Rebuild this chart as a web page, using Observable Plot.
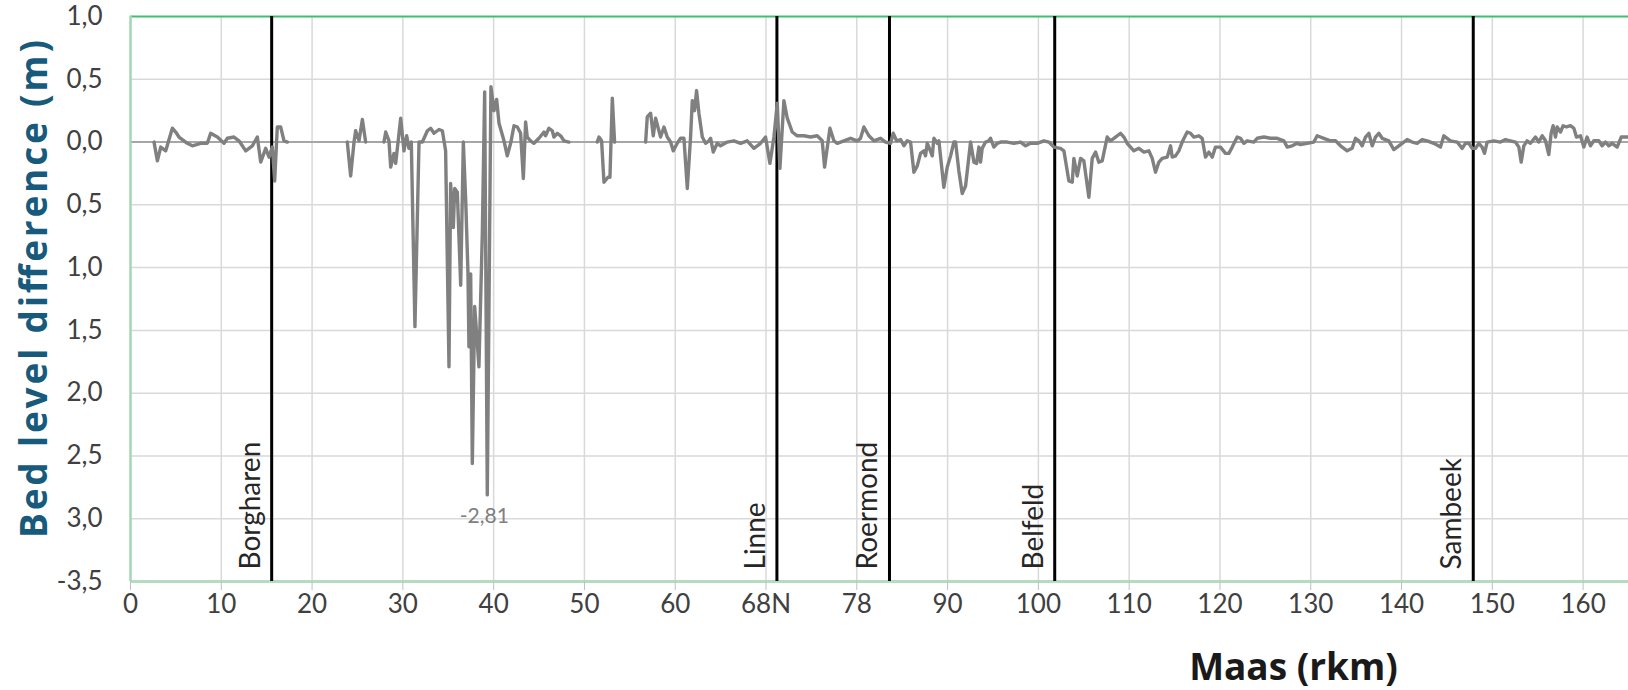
<!DOCTYPE html>
<html>
<head>
<meta charset="utf-8">
<script src="https://cdn.jsdelivr.net/npm/d3@7"></script>
<script src="https://cdn.jsdelivr.net/npm/@observablehq/plot@0.6"></script>
<style>
  html, body { margin: 0; padding: 0; background: #ffffff; }
  #chart { width: 1628px; height: 690px; overflow: hidden; }
</style>
</head>
<body>
<div id="chart"></div>
<script>
// ---- data ----
const rkm = [
  2.59,2.96,3.33,3.88,4.61,4.98,5.34,6.26,6.81,7.73,8.46,8.83,9.57,10.30,10.67,11.40,11.95,12.69,13.42,13.97,14.34,14.89,15.26,15.62,15.88,16.17,16.54,16.91,17.28,
  20,
  23.88,24.25,24.62,24.80,25.17,25.54,25.90,
  27,
  27.92,28.11,28.47,28.66,29.02,29.21,29.76,30.12,30.42,30.67,30.93,31.33,31.78,32.15,32.70,33.06,33.43,33.98,34.35,34.71,
  35.08,35.26,35.56,35.71,36.00,36.37,36.66,36.92,37.17,37.28,37.47,37.65,37.91,38.13,38.38,38.75,39.01,39.30,39.70,
  40.04,40.33,40.59,41.14,41.50,41.87,42.24,42.61,42.97,43.27,43.52,43.70,44.07,44.44,44.99,45.54,45.72,46.09,46.46,46.64,47.01,47.38,47.74,48.29,
  50,
  51.41,51.60,51.89,52.15,52.59,52.81,53.07,53.32,
  55,
  56.74,56.92,57.29,57.58,57.84,58.09,58.39,58.76,59.12,59.49,59.78,60.22,60.59,60.96,61.33,61.69,61.88,62.13,62.35,62.61,62.98,
  63.34,63.71,63.90,64.19,64.63,65.00,65.73,66.46,67.20,67.93,68.67,69.40,69.95,70.43,70.87,71.24,71.53,71.97,72.34,72.89,
  73.44,74.17,74.91,75.64,76.19,76.45,77.04,77.48,77.85,78.58,79.31,80.05,80.41,80.78,81.33,81.88,82.62,83.17,83.72,84.01,
  84.38,84.82,85.19,85.55,85.92,86.29,86.66,87.02,87.39,87.57,87.76,87.94,88.31,88.49,88.86,89.04,89.59,89.96,90.33,90.69,
  90.88,91.24,91.61,91.98,92.53,92.90,93.19,93.45,93.63,93.81,94.18,94.55,94.73,95.10,95.47,95.83,96.57,97.30,98.04,98.59,
  99.14,99.87,100.61,101.16,101.71,102.44,102.81,103.36,103.73,103.91,104.28,104.65,105.01,105.56,105.93,106.30,106.66,107.03,107.58,107.95,
  108.50,109.05,109.42,109.78,110.15,110.52,111.07,111.62,112.17,112.54,112.90,113.27,113.64,114.19,114.56,114.74,115.11,115.47,115.84,116.39,
  116.76,117.13,117.68,118.04,118.41,118.78,119.15,119.51,120.06,120.61,120.98,121.35,121.90,122.26,122.63,123.00,123.73,124.10,124.84,125.57,
  126.30,127.04,127.41,127.96,128.51,128.87,129.61,130.34,130.71,131.44,132.18,132.73,133.28,134.01,134.56,134.93,135.30,135.66,136.03,136.40,
  136.77,137.13,137.50,137.87,138.60,139.15,139.52,140.25,140.62,141.17,141.72,142.27,142.82,143.56,144.29,144.66,145.39,146.13,146.68,147.05,
  147.41,147.78,148.15,148.51,148.88,149.14,149.43,150.17,150.90,151.45,152.00,152.55,152.92,153.18,153.47,153.84,154.20,154.75,155.12,155.49,
  155.86,156.22,156.48,156.70,156.96,157.14,157.51,157.80,158.17,158.61,158.98,159.27,159.71,160.08,160.44,160.81,161.18,161.73,162.09,162.46,
  162.83,163.20,163.75,164.20,165.00
];
const diff = [
  0,-0.15,-0.04,-0.07,0.11,0.08,0.04,-0.01,-0.03,-0.01,-0.01,0.07,0.04,-0.01,0.03,0.04,0.01,-0.07,-0.03,0.04,-0.16,-0.05,-0.12,-0.04,-0.31,0.12,0.12,0.01,0,
  null,
  0,-0.27,0,0.09,0.01,0.18,0,
  null,
  0,0.08,0.01,-0.20,-0.09,-0.17,0.19,-0.07,0.05,-0.05,0,-1.47,0,0,0.09,0.11,0.07,0.10,0.09,-0.07,
  -1.79,-0.33,-0.68,-0.37,-0.40,-1.14,0,-0.46,-1.04,-1.63,-1.05,-2.56,-1.31,-1.53,-1.79,-0.73,0.40,-2.81,0.44,
  0.25,0.34,0.15,0.01,-0.11,-0.01,0.13,0.12,0.07,-0.29,0.16,0.04,0.01,-0.01,0.03,0.08,0.05,0.11,0.09,0.04,0.07,0.05,0.01,0,
  null,
  0,0.04,0.01,-0.32,-0.28,-0.28,0.35,0,
  null,
  0,0.20,0.23,0.05,0.19,0.12,0.04,0.12,0.04,0,-0.07,-0.01,0.03,0.03,-0.37,0.04,0.33,0.25,0.41,0.23,0.04,
  -0.01,0.01,0.03,-0.08,-0.01,-0.03,0,0.01,-0.01,0.01,-0.05,-0.01,0.04,-0.17,0.04,0.31,-0.21,0.33,0.19,0.08,
  0.05,0.05,0.04,0.05,0.01,-0.20,0.11,0.01,-0.01,0.01,0.03,0.01,0.03,0.12,0.05,0.01,0.03,0,-0.01,0.07,
  0.01,0.02,-0.03,0.01,0,-0.24,-0.19,-0.09,-0.07,-0.11,-0.01,-0.04,-0.11,0.03,-0.01,0.01,-0.36,-0.20,-0.11,0,
  0,-0.23,-0.41,-0.35,0,-0.16,-0.17,-0.04,-0.16,-0.05,0,0.01,0.03,-0.04,-0.01,0,0,-0.01,0,-0.03,
  -0.01,-0.01,0.01,0,-0.04,-0.05,-0.07,-0.31,-0.32,-0.13,-0.27,-0.13,-0.15,-0.44,-0.13,-0.08,-0.16,-0.15,0.04,0.01,
  0.04,0.07,0.04,-0.01,-0.04,-0.07,-0.05,-0.08,-0.07,-0.13,-0.24,-0.16,-0.13,-0.12,-0.03,-0.12,-0.11,-0.07,0,0.08,
  0.07,0.04,0.05,0.03,-0.12,-0.08,-0.12,-0.04,-0.04,-0.09,-0.09,-0.04,0.04,0.03,-0.01,0.01,0,0.03,0.04,0.03,
  0.03,0.01,-0.04,-0.03,-0.01,-0.02,-0.01,0,0.05,0.03,0.01,0.01,-0.03,-0.07,-0.05,0.03,0.01,-0.03,0.04,0.07,
  -0.03,0.04,0.07,0.03,0.01,-0.06,-0.04,0,0.02,0,-0.01,0.02,0.01,-0.01,-0.04,0.05,0.01,0,-0.05,-0.01,
  -0.01,-0.05,-0.05,-0.01,-0.04,-0.09,0,0.01,0,0.02,0.01,0,-0.04,-0.16,-0.03,0.01,-0.01,0.04,0,0.05,
  0.01,-0.10,0.07,0.13,0.04,0.12,0.08,0.13,0.12,0.13,0.11,0.04,0.05,-0.04,0.04,-0.03,0.01,0.01,-0.03,0,
  -0.03,-0.01,-0.04,0.04,0.04
];
const stationNames = ["Borgharen","Linne","Roermond","Belfeld","Sambeek"];
const stationKm = [15.55, 71.2, 83.6, 101.8, 147.9];
const xTickValues = [0,10,20,30,40,50,60,70,80,90,100,110,120,130,140,150,160];
const xTickLabels = ["0","10","20","30","40","50","60","68N","78","90","100","110","120","130","140","150","160"];
const yTickValues = [1,0.5,0,-0.5,-1,-1.5,-2,-2.5,-3,-3.5];
const yTickLabels = ["1,0","0,5","0,0","0,5","1,0","1,5","2,0","2,5","3,0","-3,5"];
const minPoint = {km: 39.30, d: -2.81, label: "-2,81"};
const yTitle = "Bed level difference (m)";
const xTitle = "Maas (rkm)";

// ---- build ----
const rows = rkm.map((k, i) => ({km: k, d: diff[i]}));
const stations = stationNames.map((n, i) => ({name: n, km: stationKm[i]}));
const FONT = "Lato, 'Open Sans', sans-serif";
const TITLE_FONT = "'Open Sans', Lato, sans-serif";

const chart = Plot.plot({
  width: 1628,
  height: 690,
  marginTop: 16,
  marginBottom: 109,
  marginLeft: 130,
  marginRight: 0,
  style: {fontFamily: FONT, background: "#ffffff", overflow: "visible"},
  x: {domain: [0, 165]},
  y: {domain: [-3.5, 1]},
  marks: [
    Plot.gridX(xTickValues.filter(v => v > 0), {stroke: "#d9d9d9", strokeOpacity: 1, strokeWidth: 1.5}),
    Plot.gridY(yTickValues.filter(v => v > -3.5 && v < 1 && v !== 0), {stroke: "#d9d9d9", strokeOpacity: 1, strokeWidth: 1.5}),
    Plot.ruleY([0], {stroke: "#a6a6a6", strokeWidth: 2}),
    Plot.ruleY([1], {stroke: "#3dbf6e", strokeWidth: 2}),
    Plot.ruleY([-3.5], {stroke: "#b3dcc0", strokeWidth: 3}),
    Plot.ruleX([0], {stroke: "#a3d6b4", strokeWidth: 2.5}),
    Plot.axisX({ticks: xTickValues, tickFormat: d => xTickLabels[xTickValues.indexOf(d)],
      tickSize: 9, tickPadding: 4, stroke: "#bfbfbf", fill: "#404040", fontSize: 26, label: null}),
    Plot.axisY({ticks: yTickValues, tickFormat: d => yTickLabels[yTickValues.indexOf(d)],
      tickSize: 0, tickPadding: 28, fill: "#404040", fontSize: 26, label: null}),
    Plot.ruleX(stations, {x: "km", y1: -3.5, y2: 1, stroke: "#000000", strokeWidth: 3}),
    Plot.text(stations, {x: "km", y: () => -3.5, text: "name", rotate: -90, textAnchor: "start",
      dx: -21, dy: -12, fontSize: 28, fill: "#262626"}),
    Plot.line(rows, {x: "km", y: "d", stroke: "#808080", strokeWidth: 3.4, strokeLinejoin: "round", curve: "linear"}),
    Plot.text([minPoint], {x: "km", y: "d", text: "label", dx: -3, dy: 21, fontSize: 21, fill: "#808080"}),
    Plot.text([yTitle], {frameAnchor: "left", rotate: -90, textAnchor: "middle", lineAnchor: "bottom",
      dx: -84, dy: -10, fontSize: 37, fontWeight: "bold", fill: "#175a7b", fontFamily: TITLE_FONT}),
    Plot.text([xTitle], {frameAnchor: "bottom", textAnchor: "middle", lineAnchor: "bottom",
      dx: 414, dy: 98, fontSize: 37, fontWeight: "bold", fill: "#1a1a1a", fontFamily: TITLE_FONT})
  ]
});
document.getElementById("chart").appendChild(chart);

// stretch the y title to the length it has in the picture
d3.select(chart).selectAll("text").each(function() {
  if (this.textContent === yTitle) {
    d3.select(this).attr("textLength", 498).attr("lengthAdjust", "spacing");
  }
});
</script>
</body>
</html>
